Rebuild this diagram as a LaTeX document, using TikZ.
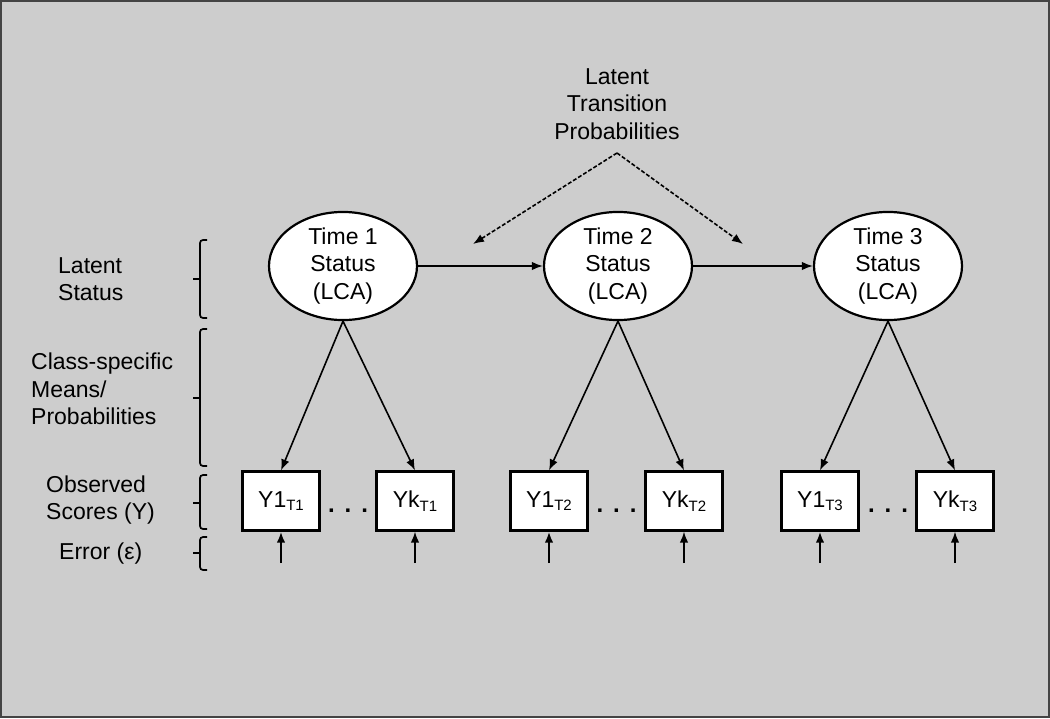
\documentclass[tikz,border=0pt]{standalone}
\usepackage{fontspec}
\setmainfont{Liberation Sans}
\usetikzlibrary{arrows.meta,shapes.geometric}
\definecolor{bg}{HTML}{CDCDCD}
\definecolor{framecol}{HTML}{444444}
\newcommand{\mysub}[1]{\raisebox{-3.5pt}{\fontsize{15}{15}\selectfont #1}}
\begin{document}
\begin{tikzpicture}[x=1pt,y=-1pt,
  txt/.style={font=\fontsize{23}{27.5}\selectfont, inner sep=0pt},
  latent/.style={ellipse, draw, fill=white, line width=2.2pt, minimum width=148pt, minimum height=104pt, inner sep=0pt, align=center, font=\fontsize{23}{27.5}\selectfont},
  obs/.style={rectangle, draw, fill=white, line width=2.2pt, minimum width=77pt, minimum height=59pt, inner sep=0pt, font=\fontsize{23}{27}\selectfont},
  arr/.style={-{Latex[length=11pt,width=8.5pt]}, line width=1.6pt},
  thickarr/.style={arr, line width=2.4pt},
  darr/.style={arr, dash pattern=on 4pt off 2pt},
  mybrace/.style={line width=1.7pt, rounded corners=3pt},
  dots/.style={font=\bfseries\fontsize{24}{27}\selectfont, inner sep=0pt, anchor=base},
  ]
\fill[bg] (0,0) rectangle (1050,718);
\draw[framecol, line width=2pt] (1,1) rectangle (1049,717);
\useasboundingbox (0,0) rectangle (1050,718);

% top label and dashed arrows
\node[txt, align=center] (ltp) at (617,104) {Latent\\Transition\\Probabilities};
\coordinate (apex) at (617,153);
\coordinate (dl) at (473,244);
\coordinate (dr) at (743,244);
\draw[darr] (apex) -- (dl);
\draw[darr] (apex) -- (dr);

% latent statuses
\node[latent] (t1) at (343,266) {Time 1\\Status\\(LCA)};
\node[latent] (t2) at (618,266) {Time 2\\Status\\(LCA)};
\node[latent] (t3) at (888,266) {Time 3\\Status\\(LCA)};
\draw[arr] (t1) -- (t2);
\draw[arr] (t2) -- (t3);

% observed boxes
\node[obs] (y1t1) at (281,501) {Y1\mysub{T1}};
\node[obs] (ykt1) at (415,501) {Yk\mysub{T1}};
\node[obs] (y1t2) at (549,501) {Y1\mysub{T2}};
\node[obs] (ykt2) at (684,501) {Yk\mysub{T2}};
\node[obs] (y1t3) at (820,501) {Y1\mysub{T3}};
\node[obs] (ykt3) at (955,501) {Yk\mysub{T3}};

\node[dots] (d1) at (348,512) {.\hspace{10pt}.\hspace{10pt}.};
\node[dots] (d2) at (616.5,512) {.\hspace{10pt}.\hspace{10pt}.};
\node[dots] (d3) at (888,512) {.\hspace{10pt}.\hspace{10pt}.};

\draw[arr] (t1.south) -- (y1t1.north);
\draw[arr] (t1.south) -- (ykt1.north);
\draw[arr] (t2.south) -- (y1t2.north);
\draw[arr] (t2.south) -- (ykt2.north);
\draw[arr] (t3.south) -- (y1t3.north);
\draw[arr] (t3.south) -- (ykt3.north);

% error arrows
\coordinate (e1) at (281,563);
\coordinate (e2) at (415,563);
\coordinate (e3) at (549,563);
\coordinate (e4) at (684,563);
\coordinate (e5) at (820,563);
\coordinate (e6) at (955,563);
\draw[thickarr] (e1) -- (y1t1.south);
\draw[arr] (e2) -- (ykt1.south);
\draw[thickarr] (e3) -- (y1t2.south);
\draw[arr] (e4) -- (ykt2.south);
\draw[thickarr] (e5) -- (y1t3.south);
\draw[arr] (e6) -- (ykt3.south);

% left labels
\node[txt, align=left, anchor=west] (lab1) at (58,279) {Latent\\Status};
\node[txt, align=left, anchor=west] (lab2) at (31,389) {Class-specific\\Means/\\Probabilities};
\node[txt, align=left, anchor=west] (lab3) at (46,500) {Observed\\Scores (Y)};
\node[txt, anchor=west] (lab4) at (59,554) {Error (ε)};

% brackets
\draw[mybrace] (207,240) -- (200,240) -- (200,318) -- (207,318);
\draw[line width=1.7pt] (200,279) -- (193,279);
\draw[mybrace] (207,329) -- (200,329) -- (200,466) -- (207,466);
\draw[line width=1.7pt] (200,398) -- (193,398);
\draw[mybrace] (207,475) -- (200,475) -- (200,529) -- (207,529);
\draw[line width=1.7pt] (200,503) -- (193,503);
\draw[mybrace] (207,537) -- (200,537) -- (200,570) -- (207,570);
\draw[line width=1.7pt] (200,553) -- (193,553);
\end{tikzpicture}
\end{document}
